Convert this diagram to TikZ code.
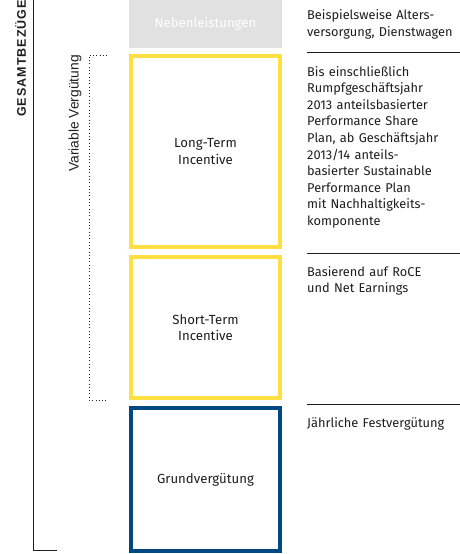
\documentclass[tikz,border=0pt]{standalone}
\usepackage{fontspec}
\setmainfont{Fira Sans}
\newfontfamily\labelfont{Liberation Sans}
\definecolor{FrameYellow}{RGB}{255,224,66}
\definecolor{FrameBlue}{RGB}{0,72,130}
\definecolor{BoxGray}{RGB}{225,225,225}
\definecolor{TextColor}{RGB}{30,30,30}
\usetikzlibrary{positioning}
\tikzstyle{rule} = [line width=1pt, TextColor]
\tikzstyle{dotline} = [line width=0.9pt, TextColor, dash pattern=on 0.9pt off 2.4pt]
\tikzset{
  part/.style={rectangle, minimum width=149pt, inner sep=0pt, align=center, font=\fontsize{13.2}{16.5}\selectfont, text=TextColor},
  variable part/.style={part, draw=FrameYellow, line width=4pt},
  fixed part/.style={part, draw=FrameBlue, line width=4pt},
  extra part/.style={part, fill=BoxGray, minimum width=153pt, text=white},
  note/.style={anchor=base west, inner sep=0pt, text width=153pt, align=left, font=\fontsize{12.8}{16.6}\selectfont, text=TextColor},
  side label/.style={rotate=90, anchor=east, inner sep=0pt, text=TextColor}
}

\begin{document}
\begin{tikzpicture}[x=1pt, y=-1pt]
    \useasboundingbox (0,0) rectangle (460,554);

    % Components
    \node[extra part, minimum height=48pt] (neben) at (205.5,24) {Nebenleistungen};
    \node[variable part, minimum height=191pt] (lti) at (205.5,151.5) {Long-Term\\Incentive};
    \node[variable part, minimum height=141pt] (sti) at (205.5,327.5) {Short-Term\\Incentive};
    \node[fixed part, minimum height=143pt] (grund) at (205.5,479.5) {Grundvergütung};

    % Total bracket
    \draw[rule] (57,550) -- (33,550) -- (33,-1);
    \node[side label, font=\labelfont\bfseries\fontsize{12.5}{14}\selectfont\addfontfeatures{LetterSpace=8}] (gesamt) at (20.5,0) {GESAMTBEZÜGE};

    % Variable bracket
    \draw[dotline] (107,55) -- (89,55) -- (89,400) -- (107,400);
    \node[side label, font=\labelfont\fontsize{13.8}{15}\selectfont] (variabel) at (75,55) {Variable Vergütung};

    % Notes
    \node[note] (neben note) at (307,19.5) {Beispielsweise Alters-\\versorgung, Dienstwagen};
    \draw[rule] (307,52) -- (460,52);
    \node[note] (lti note) at (307,76) {Bis einschließlich\\Rumpfgeschäftsjahr\\2013 anteilsbasierter\\Performance Share\\Plan, ab Geschäftsjahr\\2013/14 anteils-\\basierter Sustainable\\Performance Plan\\mit Nachhaltigkeits-\\komponente};
    \draw[rule] (307,253) -- (460,253);
    \node[note] (sti note) at (307,276) {Basierend auf RoCE\\und Net Earnings};
    \draw[rule] (307,404) -- (460,404);
    \node[note] (grund note) at (307,427) {Jährliche Festvergütung};
\end{tikzpicture}
\end{document}
